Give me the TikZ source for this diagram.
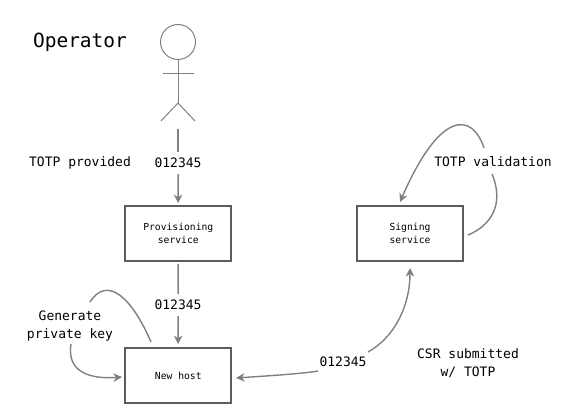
\documentclass[tikz,border=0pt]{standalone}
\usepackage{fontspec}
\setmonofont{DejaVu Sans Mono}
\usetikzlibrary{arrows.meta}
\definecolor{linegray}{HTML}{808080}
\definecolor{boxgray}{HTML}{5C5C5C}
\tikzset{
    service/.style={draw=boxgray,line width=1.7pt,minimum width=106pt,minimum height=55pt,align=center,inner sep=0pt,font=\ttfamily\fontsize{9.7}{12.4}\selectfont},
    caption/.style={align=center,inner sep=0pt,font=\ttfamily\fontsize{13}{17.5}\selectfont},
    code/.style={inner sep=0pt,minimum height=22pt,font=\ttfamily\fontsize{13}{16}\selectfont},
    flow/.style={draw=linegray,line width=1.4pt},
    flowto/.style={flow,-{Stealth[length=8.5pt,width=8.5pt,inset=2.5pt]}},
    figure/.style={draw=linegray,line width=1pt},
}
\begin{document}
\begin{tikzpicture}[x=1pt,y=-1pt]
    \useasboundingbox (0,0) rectangle (585,414);
    \node[inner sep=0pt,font=\ttfamily\fontsize{19.5}{22}\selectfont] (operator) at (80,42) {Operator};
    % the stick figure
    \node[circle,figure,minimum size=35pt,inner sep=0pt] (head) at (178,42) {};
    \coordinate (hip) at (178,103);
    \coordinate (armL) at (163,74);
    \coordinate (armR) at (194,74);
    \coordinate (legL) at (161,121);
    \coordinate (legR) at (195,121);
    \coordinate (feet) at (178,129);
    \draw[figure] (head) -- (hip);
    \draw[figure] (armL) -- (armR);
    \draw[figure] (legL) -- (hip) -- (legR);
    % boxes
    \node[service] (prov) at (178.3,233.5) {Provisioning\\service};
    \node[service] (host) at (178.3,375.5) {New host};
    \node[service] (sign) at (410,233.5) {Signing\\service};
    % labels
    \node[caption] (provided) at (80,163) {TOTP provided};
    \node[code] (code1) at (178,163) {012345};
    \node[code] (code2) at (178,305) {012345};
    \node[code] (code3) at (343,362) {012345};
    \node[caption] (generate) at (70,326) {Generate\\private key};
    \node[caption] (validation) at (493,162) {TOTP validation};
    \node[caption] (submitted) at (468,363) {CSR submitted\\w/ TOTP};
    % straight flows
    \draw[flow] (feet) -- (code1);
    \draw[flowto,shorten >=2pt] (code1) -- (prov);
    \draw[flow,shorten <=2pt] (prov) -- (code2);
    \draw[flowto,shorten >=3pt] (code2) -- (host);
    % curved flows
    \coordinate (keyA) at (151,342);
    \coordinate (keyB) at (90,302);
    \coordinate (keyC) at (71,344);
    \coordinate (keyD) at (122,377);
    \draw[flow] (keyA) .. controls (133,300) and (108,274) .. (keyB);
    \draw[flowto] (keyC) .. controls (66,375) and (95,379) .. (keyD);
    \coordinate (csrA) at (318,371);
    \coordinate (csrB) at (236,378);
    \coordinate (csrC) at (368,352);
    \coordinate (csrD) at (410,268);
    \draw[flowto] (csrA) .. controls (300,374) and (265,376) .. (csrB);
    \draw[flowto] (csrC) .. controls (395,337) and (410,305) .. (csrD);
    \coordinate (checkA) at (468,235);
    \coordinate (checkB) at (492,174);
    \coordinate (checkC) at (484,148);
    \coordinate (checkD) at (400,202);
    \draw[flow] (checkA) .. controls (490,226) and (505,205) .. (checkB);
    \draw[flowto] (checkC) .. controls (472,112) and (440,110) .. (checkD);
\end{tikzpicture}
\end{document}
